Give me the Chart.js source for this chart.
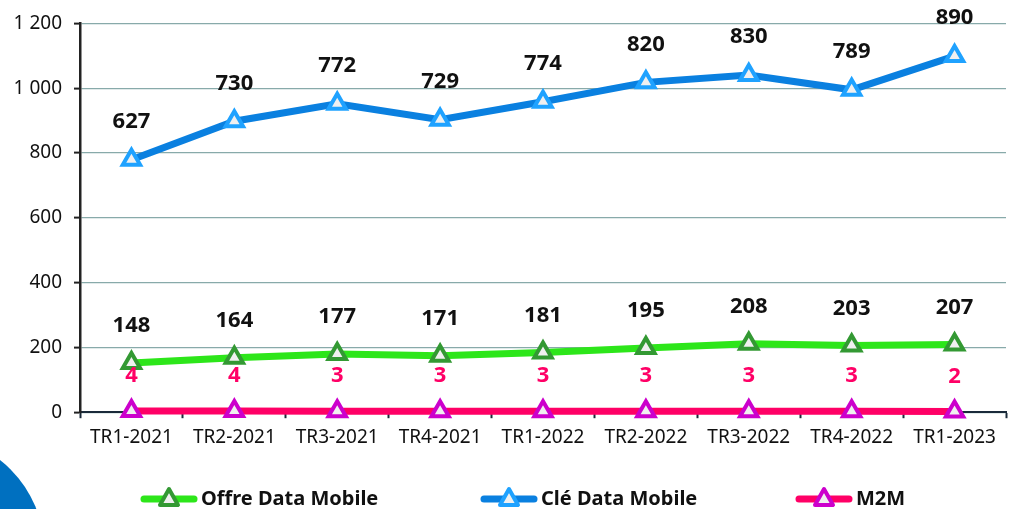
<!DOCTYPE html>
<html>
<head>
<meta charset="utf-8">
<script src="https://cdn.jsdelivr.net/npm/chart.js@4/dist/chart.umd.min.js"></script>
<style>
    html, body { margin: 0; padding: 0; background: #fff; overflow: hidden; }
    #wrap { position: relative; width: 1020px; height: 509px; }
    #deco { position: absolute; left: -184px; top: 436px; width: 228px; height: 228px; border-radius: 50%; background: #0070C0; }
    .legend-item { position: absolute; top: 484px; display: flex; align-items: center; font: bold 20px 'Noto Sans', sans-serif; color: #111; white-space: nowrap; }
    .legend-item canvas { margin-right: 3px; }
</style>
</head>
<body>
<div id="wrap">
    <canvas id="chart" width="1020" height="509"></canvas>
    <div id="deco"></div>
</div>
<script>
// Categories
const quarters = ['TR1-2021', 'TR2-2021', 'TR3-2021', 'TR4-2021', 'TR1-2022', 'TR2-2022', 'TR3-2022', 'TR4-2022', 'TR1-2023'];

// Series values (the lines are stacked: M2M, then Offre, then Clé)
const offreDataMobile = [148, 164, 177, 171, 181, 195, 208, 203, 207];
const cleDataMobile = [627, 730, 772, 729, 774, 820, 830, 789, 890];
const m2m = [4, 4, 3, 3, 3, 3, 3, 3, 2];

// Y axis ticks
const yTicks = [0, 200, 400, 600, 800, 1000, 1200];

const FONT = "'Noto Sans', sans-serif";

// legend sample: line with a hollow triangle in the middle
function legendSample(lineColor, markColor) {
    const c = document.createElement('canvas');
    c.width = 58;
    c.height = 26;
    const g = c.getContext('2d');
    g.strokeStyle = lineColor;
    g.lineWidth = 7;
    g.lineCap = 'round';
    g.beginPath();
    g.moveTo(4, 14);
    g.lineTo(54, 14);
    g.stroke();
    g.beginPath();
    g.moveTo(29, 4);
    g.lineTo(38, 20);
    g.lineTo(20, 20);
    g.closePath();
    g.fillStyle = '#f0f0f0';
    g.fill();
    g.strokeStyle = markColor;
    g.lineWidth = 4;
    g.lineJoin = 'round';
    g.stroke();
    return c;
}

// value labels above each point
const valueLabels = {
    id: 'valueLabels',
    afterDatasetsDraw(chart) {
        const ctx = chart.ctx;
        ctx.save();
        ctx.textAlign = 'center';
        ctx.textBaseline = 'middle';
        chart.data.datasets.forEach((ds, i) => {
            const meta = chart.getDatasetMeta(i);
            ctx.fillStyle = ds.labelColor;
            ctx.font = 'bold 22px ' + FONT;
            meta.data.forEach((pt, j) => {
                ctx.fillText(String(ds.data[j]), pt.x, pt.y - ds.labelGap);
            });
        });
        ctx.restore();
    }
};

const datasets = [{
    label: 'Offre Data Mobile',
    data: offreDataMobile,
    borderColor: '#2DE61A',
    pointBorderColor: '#339933',
    labelColor: '#111',
    labelGap: 37,
    legendX: 140,
    order: 1
}, {
    label: 'Clé Data Mobile',
    data: cleDataMobile,
    borderColor: '#0A80E0',
    pointBorderColor: '#1FA2FF',
    labelColor: '#111',
    labelGap: 38,
    legendX: 480,
    order: 2
}, {
    label: 'M2M',
    data: m2m,
    borderColor: '#FF0066',
    pointBorderColor: '#CC00CC',
    labelColor: '#FF0066',
    labelGap: 35,
    legendX: 795,
    order: 0
}].map(ds => Object.assign({
    borderWidth: 7,
    pointStyle: 'triangle',
    pointRadius: 10,
    pointBorderWidth: 4,
    pointBackgroundColor: '#f0f0f0',
    tension: 0,
    fill: false,
    clip: false
}, ds));

new Chart(document.getElementById('chart'), {
    type: 'line',
    data: { labels: quarters, datasets: datasets },
    plugins: [valueLabels],
    options: {
        responsive: false,
        animation: false,
        layout: { padding: { left: 0, right: 2, top: 21, bottom: 52 } },
        plugins: {
            tooltip: { enabled: false },
            legend: { display: false }
        },
        scales: {
            x: {
                offset: true,
                grid: {
                    offset: true,
                    drawOnChartArea: false,
                    tickLength: 6,
                    tickColor: '#1a2a3a',
                    tickWidth: 2
                },
                border: { color: '#1a2a3a', width: 2 },
                ticks: { color: '#111', font: { family: FONT, size: 19 }, padding: 8 }
            },
            y: {
                stacked: true,
                min: 0,
                max: 1200,
                afterFit(scale) { scale.width = 80; },
                afterBuildTicks(scale) { scale.ticks = yTicks.map(v => ({ value: v })); },
                grid: {
                    color: '#88AAAA',
                    lineWidth: 1.2,
                    borderDash: [8, 3, 2, 3],
                    tickColor: '#222',
                    tickBorderDash: [],
                    tickLength: 6,
                    tickWidth: 2
                },
                border: { color: '#222', width: 2.5 },
                ticks: {
                    color: '#111',
                    font: { family: FONT, size: 19 },
                    padding: 12,
                    callback: v => String(v).replace(/\B(?=(\d{3})+(?!\d))/g, ' ')
                }
            }
        }
    }
});

// legend under the chart
const wrap = document.getElementById('wrap');
datasets.forEach(ds => {
    const item = document.createElement('div');
    item.className = 'legend-item';
    item.style.left = ds.legendX + 'px';
    item.appendChild(legendSample(ds.borderColor, ds.pointBorderColor));
    item.appendChild(document.createTextNode(ds.label));
    wrap.appendChild(item);
});
</script>
</body>
</html>
